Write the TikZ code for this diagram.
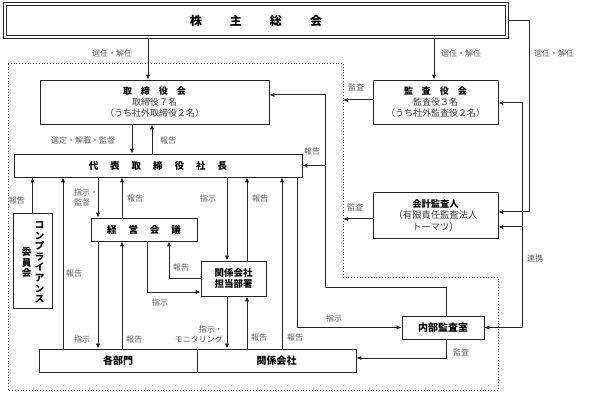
\documentclass[tikz,border=0pt]{standalone}
\usepackage{fontspec}
\setmainfont{Noto Sans CJK JP}
\usetikzlibrary{arrows.meta}
\definecolor{lbl}{RGB}{95,95,95}
\definecolor{ln}{RGB}{35,35,35}
\definecolor{sub}{RGB}{60,60,60}
\begin{document}
\begin{tikzpicture}[x=1pt,y=-1pt,
  box/.style={draw=ln, line width=0.9pt, fill=white, inner sep=0pt, align=center},
  arr/.style={draw=ln, line width=1pt, -{Latex[length=5pt,width=4.5pt]}},
  arrtwo/.style={draw=ln, line width=1pt, {Latex[length=5pt,width=4.5pt]}-{Latex[length=5pt,width=4.5pt]}},
  lab/.style={text=lbl, font=\fontsize{8}{9.6}\selectfont, inner sep=0pt},
  ttl/.style={font=\bfseries\fontsize{10}{12}\selectfont},
  vcol/.style={font=\bfseries\fontsize{9.5}{10.6}\selectfont, align=center, inner sep=0pt},
  ]
\useasboundingbox (0,0) rectangle (589,398);
\fill[white] (0,0) rectangle (589,398);

% dotted boundary of the company
\draw[dotted, draw=ln!80, line width=0.8pt] (8,63) -- (343,63) -- (343,277) -- (498,277) -- (498,390) -- (8,390) -- cycle;

% boxes
\node[box, line width=0.8pt, minimum width=499pt, minimum height=30pt,
      font=\bfseries\fontsize{12}{14}\selectfont] (sh) at (256,20.5)
      {株\hspace{28pt}主\hspace{28pt}総\hspace{28pt}会};
\draw[draw=ln, line width=0.8pt] ([shift={(-2.5,-2.5)}]sh.north west) rectangle ([shift={(2.5,2.5)}]sh.south east);
\node[box, minimum width=229pt, minimum height=44pt, font=\fontsize{9}{10.7}\selectfont, text=sub] (tb) at (154.5,102)
      {{\bfseries\color{black}取\hspace{9pt}締\hspace{9pt}役\hspace{9pt}会}\\取締役７名\\（うち社外取締役２名）};
\node[box, minimum width=125pt, minimum height=44pt, font=\fontsize{9}{10.7}\selectfont, text=sub] (kr) at (435.5,102)
      {{\bfseries\color{black}監\hspace{9pt}査\hspace{9pt}役\hspace{9pt}会}\\監査役３名\\（うち社外監査役２名）};
\node[box, minimum width=288pt, minimum height=23pt, font=\bfseries\fontsize{9.5}{11}\selectfont] (ceo) at (158,165.5)
      {代\hspace{12pt}表\hspace{12pt}取\hspace{12pt}締\hspace{12pt}役\hspace{12pt}社\hspace{12pt}長};
\node[box, minimum width=106pt, minimum height=23pt, font=\bfseries\fontsize{9.5}{11}\selectfont] (kk) at (144,229.5)
      {経\hspace{12pt}営\hspace{12pt}会\hspace{12pt}議};
\node[box, minimum width=39pt, minimum height=95pt] (comp) at (32.5,260.5) {};
\node[vcol] (compa) at (39.5,262.5) {コ\\ン\\プ\\ラ\\イ\\ア\\ン\\ス};
\node[vcol] (compb) at (26.5,262.5) {委\\員\\会};
\node[box, minimum width=65pt, minimum height=35pt, font=\bfseries\fontsize{9.5}{11.5}\selectfont] (tan) at (233.5,278.5)
      {関係会社\\担当部署};
\node[box, minimum width=125pt, minimum height=46pt, font=\fontsize{9.3}{11.5}\selectfont, text=sub] (ka) at (435.5,215)
      {{\bfseries\color{black}会計監査人}\\（有限責任監査法人\\トーマツ）};
\node[box, minimum width=82pt, minimum height=23pt, ttl] (nai) at (443,327.5) {内部監査室};
\node[box, minimum width=158pt, minimum height=23pt, ttl] (bu) at (118,360.5) {各部門};
\node[box, minimum width=159pt, minimum height=23pt, ttl] (kg) at (276.5,360.5) {関係会社};

% helper coordinates
\coordinate (x148) at (148,0);
\coordinate (x434) at (434,0);
\coordinate (x132) at (132,0);
\coordinate (x152) at (152,0);
\coordinate (x446) at (446,0);
\coordinate (x63) at (63,0);
\coordinate (x98) at (98,0);
\coordinate (x122) at (122,0);
\coordinate (x227) at (227,0);
\coordinate (x247) at (247,0);
\coordinate (x282) at (282,0);
\coordinate (x297) at (297,0);
\coordinate (r0) at (508,20.5);
\coordinate (r1) at (529,20.5);
\coordinate (r2) at (529,212);
\coordinate (s0) at (0,38);
\coordinate (d1) at (343,100);
\coordinate (d2) at (343,219);
\coordinate (k1) at (522,103);
\coordinate (k2) at (522,227);
\coordinate (k3) at (522,327.5);
\coordinate (j1) at (325,287);
\coordinate (j2) at (325,95);
\coordinate (m1) at (446,358);
\coordinate (t1) at (147,292);
\coordinate (t2) at (169,278);

% connectors
\draw[arr] (s0 -| x148) -- (tb.north -| x148);
\draw[arr] (s0 -| x434) -- (kr.north -| x434);
\draw[arr] (r0) -- (r1) -- (r2) -- (ka.east |- r2);
\draw[arr] (tb.south -| x132) -- (ceo.north -| x132);
\draw[arr] (ceo.north -| x152) -- (tb.south -| x152);
\draw[arr] (kr.west |- d1) -- (d1);
\draw[arr] (ka.west |- d2) -- (d2);
\draw[arrtwo] (kr.east |- k1) -- (k1) -- (k3) -- (nai.east |- k3);
\draw[arr] (k2) -- (ka.east |- k2);
\draw[arr] (nai.north -| x446) |- (j1) -- (j2) -- (tb.east |- j2);
\draw[arr] (j1 |- ceo.east) -- (ceo.east);
\draw[arr] (nai.south -| x446) -- (m1) -- (kg.east |- m1);
\draw[arr] (comp.north) -- (comp.north |- ceo.south);
\draw[arr] (bu.north -| x63) -- (ceo.south -| x63);
\draw[arr] (ceo.south -| x98) -- (kk.north -| x98);
\draw[arr] (kk.north -| x122) -- (ceo.south -| x122);
\draw[arr] (kk.south -| x98) -- (bu.north -| x98);
\draw[arr] (bu.north -| x122) -- (kk.south -| x122);
\draw[arr] (ceo.south -| x227) -- (tan.north -| x227);
\draw[arr] (tan.north -| x247) -- (ceo.south -| x247);
\draw[arr] (tan.south -| x227) -- (kg.north -| x227);
\draw[arr] (kg.north -| x247) -- (tan.south -| x247);
\draw[arr] (kg.north -| x282) -- (ceo.south -| x282);
\draw[arr] (ceo.south -| x297) |- (nai.west);
\draw[arr] (kk.south -| t1) -- (t1) -- (tan.west |- t1);
\draw[arr] (tan.west |- t2) -- (t2) -- (kk.south -| t2);

% labels
\node[lab] (l1) at (112,53) {選任・解任};
\node[lab] (l2) at (461,53) {選任・解任};
\node[lab] (l3) at (554,53) {選任・解任};
\node[lab] (l4) at (356,87) {監査};
\node[lab] (l5) at (83,140) {選定・解職・監督};
\node[lab] (l6) at (168,140) {報告};
\node[lab] (l7) at (312,151) {報告};
\node[lab] (l8) at (355,207) {監査};
\node[lab] (l9) at (535,258) {連携};
\node[lab] (l10) at (17,200) {報告};
\node[lab, anchor=west, align=left] (l11) at (74,197.5) {指示・\\監督};
\node[lab] (l12) at (135,198) {報告};
\node[lab] (l13) at (208,198) {指示};
\node[lab] (l14) at (260,198) {報告};
\node[lab] (l15) at (74,273) {報告};
\node[lab] (l16) at (181,267) {報告};
\node[lab] (l17) at (160,302) {指示};
\node[lab] (l18) at (82,339) {指示};
\node[lab] (l19) at (134,339) {報告};
\node[lab, anchor=east, align=right] (l20) at (223,334.5) {指示・\\モニタリング};
\node[lab] (l21) at (259,337) {報告};
\node[lab] (l22) at (295,337) {報告};
\node[lab] (l23) at (334,318) {指示};
\node[lab] (l24) at (461,352) {監査};
\end{tikzpicture}
\end{document}
